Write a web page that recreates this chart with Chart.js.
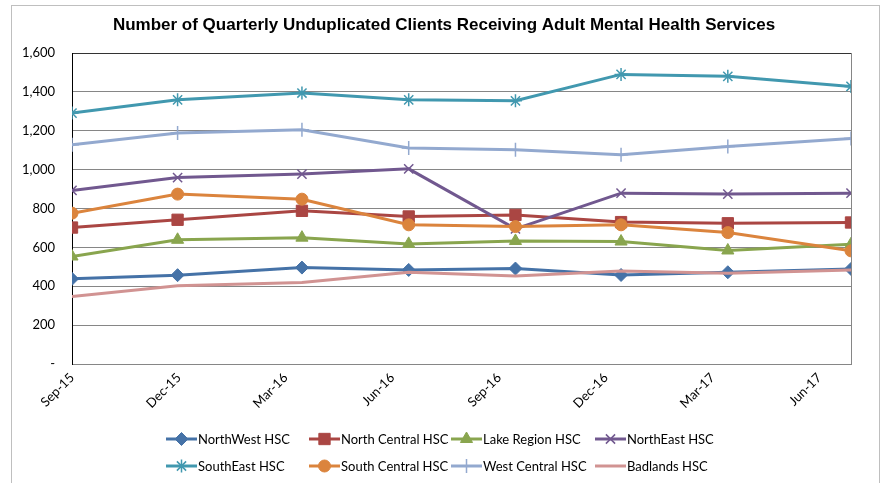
<!DOCTYPE html>
<html>
<head>
<meta charset="utf-8">
<script src="https://cdn.jsdelivr.net/npm/chart.js@4/dist/chart.umd.min.js"></script>
<style>
  html, body { margin: 0; padding: 0; background: #fff; }
  #wrap { width: 885px; height: 483px; position: relative; }
</style>
</head>
<body>
<div id="wrap"><canvas id="chart"></canvas></div>
<script>
const pointDays = [0, 90, 196, 287, 378, 468, 559, 664];
const tickDays = [0, 91, 182, 273, 364, 455, 546, 637];
const tickLabels = ['Sep-15', 'Dec-15', 'Mar-16', 'Jun-16', 'Sep-16', 'Dec-16', 'Mar-17', 'Jun-17'];

const seriesNames = ['NorthWest HSC', 'North Central HSC', 'Lake Region HSC', 'NorthEast HSC',
  'SouthEast HSC', 'South Central HSC', 'West Central HSC', 'Badlands HSC'];

const northWest = [438, 457, 496, 484, 491, 458, 472, 489];
const northCentral = [702, 742, 788, 759, 767, 730, 724, 728];
const lakeRegion = [553, 639, 650, 618, 633, 630, 584, 616];
const northEast = [893, 959, 977, 1004, 695, 879, 874, 879];
const southEast = [1291, 1359, 1394, 1359, 1354, 1490, 1480, 1428];
const southCentral = [776, 874, 848, 716, 707, 716, 676, 582];
const westCentral = [1128, 1188, 1205, 1111, 1102, 1076, 1119, 1160];
const badlands = [347, 403, 419, 472, 453, 479, 467, 484];

const seriesValues = [northWest, northCentral, lakeRegion, northEast, southEast, southCentral, westCentral, badlands];
const colors = ['#4572A7', '#AA4643', '#89A54E', '#71588F', '#4198AF', '#DB843D', '#93A9CF', '#D19392'];
const markers = ['rectRot', 'rect', 'triangle', 'crossRot', 'star', 'circle', 'cross', false];
const markerSizes = [6.5, 8, 7, 6.5, 6.5, 6, 7, 0];

const labelFont = 'Lato, Carlito, "Liberation Sans", sans-serif';

const datasets = seriesNames.map((name, i) => ({
  label: name,
  data: seriesValues[i].map((v, j) => ({ x: pointDays[j], y: v })),
  borderColor: colors[i],
  backgroundColor: colors[i],
  borderWidth: 3,
  pointStyle: markers[i],
  pointRadius: markerSizes[i],
  pointBorderWidth: (markers[i] === 'star' || markers[i] === 'cross' || markers[i] === 'crossRot') ? 1.5 : 1,
  tension: 0,
  order: -i
}));

function drawMarker(ctx, ds, x, y) {
  if (Chart.helpers && Chart.helpers.drawPoint) {
    Chart.helpers.drawPoint(ctx, { pointStyle: ds.pointStyle, radius: ds.pointRadius, rotation: 0, borderWidth: ds.pointBorderWidth }, x, y);
  }
}

const frame = {
  id: 'frame',
  beforeDraw(chart) {
    const ctx = chart.ctx;
    ctx.save();
    ctx.fillStyle = '#fff';
    ctx.fillRect(0, 0, chart.width, chart.height);
    ctx.strokeStyle = '#bfbfbf';
    ctx.lineWidth = 1;
    ctx.strokeRect(11.5, 5.5, 868, 520);
    ctx.restore();
  },
  afterDraw(chart) {
    const ctx = chart.ctx;
    const a = chart.chartArea;
    ctx.save();
    // right border of the plot area
    ctx.strokeStyle = '#868686';
    ctx.lineWidth = 1;
    ctx.beginPath();
    ctx.moveTo(Math.round(a.right) + 0.5, a.top);
    ctx.lineTo(Math.round(a.right) + 0.5, a.bottom);
    ctx.stroke();

    // title
    ctx.fillStyle = '#000';
    ctx.font = 'bold 17px "Liberation Sans Narrow", "Arial Narrow", "Liberation Sans", sans-serif';
    ctx.textAlign = 'center';
    ctx.textBaseline = 'middle';
    ctx.fillText('Number of Quarterly Unduplicated Clients Receiving Adult Mental Health Services', 444, 25);

    // legend in a 4x2 grid
    const colX = [166, 309, 451, 595];
    const rowY = [439, 466];
    ctx.font = '13px ' + labelFont;
    ctx.textAlign = 'left';
    chart.data.datasets.forEach((ds, i) => {
      const x = colX[i % 4];
      const y = rowY[Math.floor(i / 4)];
      ctx.strokeStyle = ds.borderColor;
      ctx.lineWidth = 3;
      ctx.beginPath();
      ctx.moveTo(x, y);
      ctx.lineTo(x + 31, y);
      ctx.stroke();
      if (ds.pointStyle) {
        ctx.fillStyle = ds.backgroundColor;
        ctx.strokeStyle = ds.borderColor;
        ctx.lineWidth = ds.pointBorderWidth;
        drawMarker(ctx, ds, x + 15.5, y);
      }
      ctx.fillStyle = '#000';
      ctx.fillText(ds.label, x + 32, y + 1);
    });
    ctx.restore();
  }
};

new Chart(document.getElementById('chart'), {
  type: 'line',
  data: { datasets },
  plugins: [frame],
  options: {
    responsive: true,
    maintainAspectRatio: false,
    animation: false,
    layout: { padding: { top: 53, right: 34, bottom: 69, left: 0 } },
    plugins: {
      legend: { display: false },
      title: { display: false },
      tooltip: { enabled: false }
    },
    scales: {
      x: {
        type: 'linear',
        min: 0,
        max: pointDays[pointDays.length - 1],
        afterBuildTicks: (scale) => { scale.ticks = tickDays.map(v => ({ value: v })); },
        afterFit: (scale) => { scale.height = 50; },
        grid: { display: false, drawTicks: false },
        border: { color: '#868686', width: 1 },
        ticks: {
          autoSkip: false,
          maxRotation: 45,
          minRotation: 45,
          padding: 6,
          color: '#000',
          font: { family: labelFont, size: 13 },
          callback: (v, i) => tickLabels[i]
        }
      },
      y: {
        min: 0,
        max: 1600,
        afterFit: (scale) => { scale.width = 72; },
        grid: {
          drawTicks: false,
          color: (c) => c.tick && c.tick.value === 1600 ? '#333' : '#868686'
        },
        border: { color: '#000', width: 1 },
        ticks: {
          stepSize: 200,
          padding: 17,
          color: '#000',
          font: { family: labelFont, size: 13 },
          callback: (v) => v === 0 ? '-' : v.toLocaleString('en-US')
        }
      }
    }
  }
});
</script>
</body>
</html>
